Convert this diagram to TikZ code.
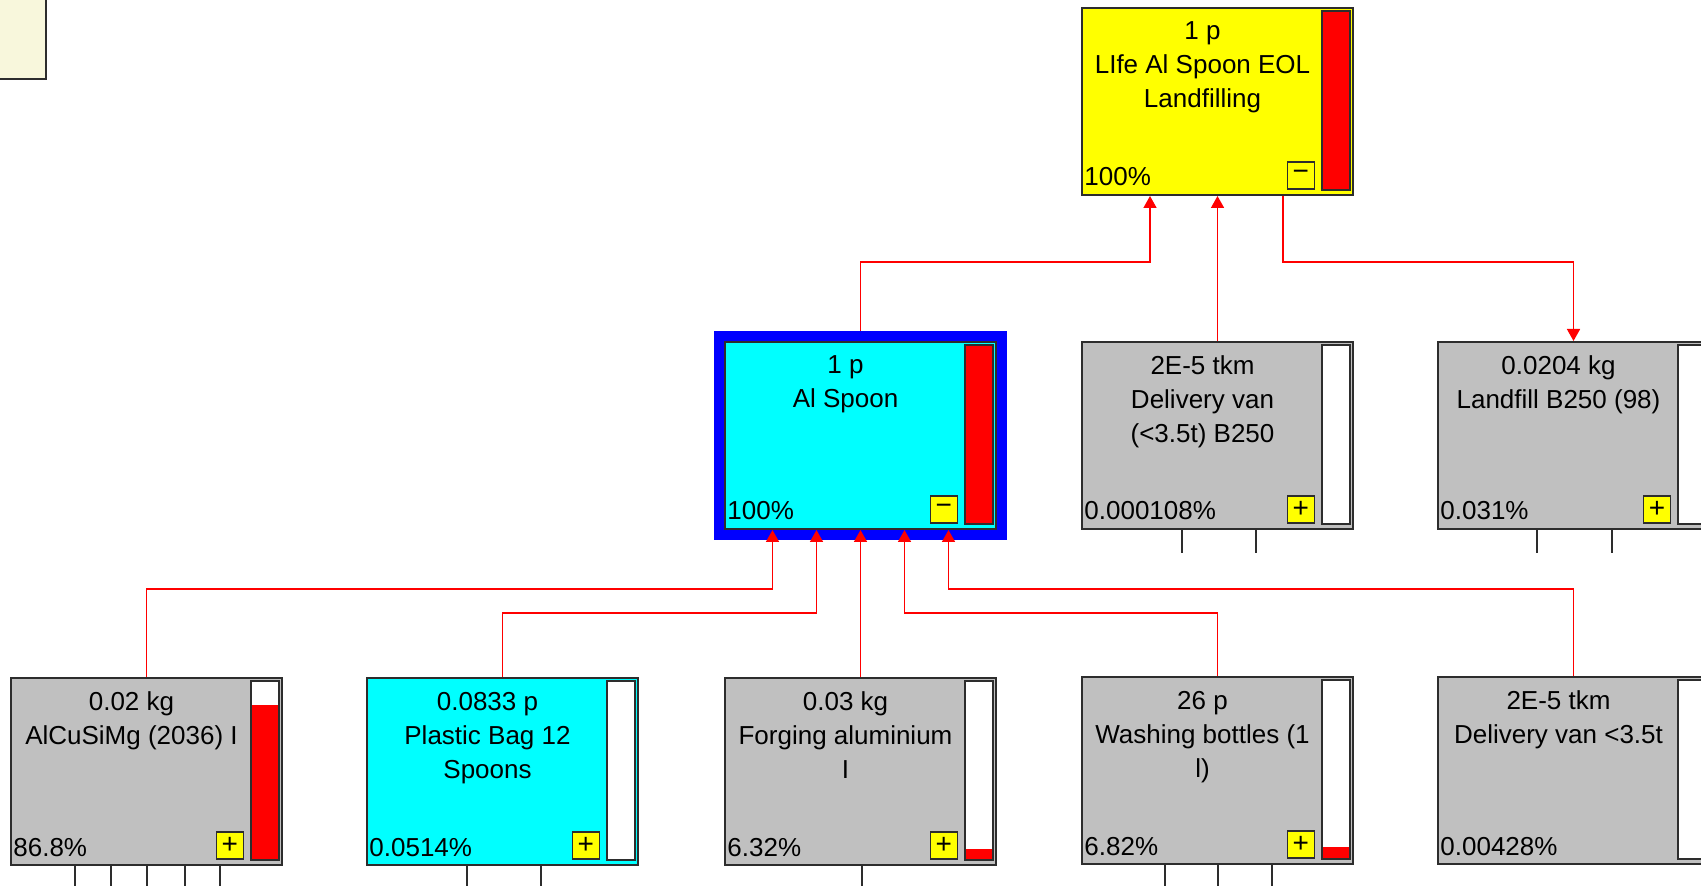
\documentclass[tikz,border=0pt]{standalone}
\usepackage{fontspec}
\setmainfont{Liberation Sans}
\usepackage{tikz}
\usetikzlibrary{arrows.meta,positioning,fit,backgrounds}
\definecolor{yellow1}{RGB}{255,255,0}
\definecolor{cyan1}{RGB}{0,255,255}
\definecolor{gray1}{RGB}{192,192,192}
\definecolor{red1}{RGB}{255,0,0}
\definecolor{blue1}{RGB}{0,0,255}
\definecolor{beige1}{RGB}{248,247,220}
\definecolor{edge1}{RGB}{45,45,45}

\tikzset{
  procbox/.style={draw=edge1, line width=1pt, minimum width=135.5pt, minimum height=93.5pt, inner sep=0pt},
  proctitle/.style={align=center, inner sep=0pt, font=\fontsize{13}{17}\selectfont},
  procpct/.style={inner sep=0pt, font=\fontsize{13}{17}\selectfont},
  procbar/.style={fill=white, minimum width=13.5pt, minimum height=89pt, inner sep=0pt},
  signbox/.style={draw=edge1, fill=yellow1, line width=0.8pt, minimum size=13.5pt, inner sep=0pt, font=\fontsize{14}{14}\selectfont},
  link/.style={red1, line width=0.8pt, -{Triangle[width=6.5pt,length=6pt]}},
  stub/.style={edge1, line width=1pt},
}

% one process box: name, placement, fill, title, share, red part of bar
\newcommand{\procnode}[6]{%
  \node[procbox, fill=#3, #2] (#1) {};
  \node[proctitle, anchor=north] (#1-t) at ([xshift=-7.5pt,yshift=-7.3pt]#1.north) {#4};
  \node[procpct, anchor=base west] (#1-p) at ([xshift=1.5pt,yshift=5pt]#1.south west) {#5};
  \node[procbar, anchor=north east] (#1-b) at ([xshift=-2pt,yshift=-2pt]#1.north east) {};
  \fill[red1] (#1-b.south west) rectangle ([yshift=#6*89pt]#1-b.south east);
  \draw[edge1, line width=0.8pt] (#1-b.south west) rectangle (#1-b.north east);
}

\begin{document}
\begin{tikzpicture}[x=0.5pt, y=-0.5pt]
    \useasboundingbox (0,0) rectangle (1701,886);
    \clip (0,0) rectangle (1701,886);
    % Note corner
    \draw[fill=beige1, draw=edge1, line width=1pt] (-10,-10) rectangle (46,79);
    % Top process
    \procnode{life}{at={(1217.5,101.5)}}{yellow1}{1 p\\LIfe Al Spoon EOL\\Landfilling}{100\%}{1}
    % Second level
    \procnode{van}{below=72.5pt of life}{gray1}{2E-5 tkm\\Delivery van\\(<3.5t) B250}{0.000108\%}{0}
    \procnode{spoon}{left=42pt of van}{cyan1}{1 p\\Al Spoon}{100\%}{1}
    \procnode{landfill}{right=41.5pt of van}{gray1}{0.0204 kg\\Landfill B250 (98)}{0.031\%}{0}
    % Third level
    \procnode{forging}{below=73.5pt of spoon}{gray1}{0.03 kg\\Forging aluminium\\I}{6.32\%}{0.0632}
    \procnode{plastic}{left=42.5pt of forging}{cyan1}{0.0833 p\\Plastic Bag 12\\Spoons}{0.0514\%}{0}
    \procnode{alcu}{left=41.5pt of plastic}{gray1}{0.02 kg\\AlCuSiMg (2036) I}{86.8\%}{0.868}
    \procnode{washing}{below=73pt of van}{gray1}{26 p\\Washing bottles (1\\l)}{6.82\%}{0.0682}
    \procnode{van2}{right=41.5pt of washing}{gray1}{2E-5 tkm\\Delivery van <3.5t}{0.00428\%}{0}
    % Selected process
    \begin{scope}[on background layer]
        \node[fill=blue1, fit=(spoon), inner sep=5pt] (spoonsel) {};
    \end{scope}
    % Expand / collapse buttons
    \foreach \n/\s in {life/−, spoon/−, van/+, landfill/+, alcu/+, plastic/+, forging/+, washing/+}
        \node[signbox, anchor=south east] (\n-s) at ([xshift=-3.5pt]\n-b.south west) {\s};
    % Ports and bus lines
    \coordinate (topbus) at (0,262);
    \coordinate (busA) at (0,589);
    \coordinate (busB) at (0,613);
    \coordinate (out1) at ([xshift=-33.75pt]life.south);
    \coordinate (out3) at ([xshift=32.75pt]life.south);
    \foreach \k/\dx in {1/-44,2/-22,3/0,4/22,5/44}
        \coordinate (in\k) at ([xshift=\dx pt]spoon.south);
    % Flows
    \draw[link] (spoonsel.north) -- (spoonsel.north |- topbus) -| (out1);
    \draw[link] (van.north) -- (life.south);
    \draw[link] (out3) -- (out3 |- topbus) -| (landfill.north);
    \draw[link] (alcu.north) -- (alcu.north |- busA) -| (in1);
    \draw[link] (plastic.north) -- (plastic.north |- busB) -| (in2);
    \draw[link] (forging.north) -- (in3);
    \draw[link] (washing.north) -- (washing.north |- busB) -| (in4);
    \draw[link] (van2.north) -- (van2.north |- busA) -| (in5);
    % Inputs not expanded
    \foreach \n/\offs in {van/{-17.75,19.25}, landfill/{-18.25,19.25}, alcu/{-36,-18,0,19,36.5}, plastic/{-18,19}, forging/{0.75}, washing/{-26.25,0,27.25}}
        \foreach \dx in \offs
            \draw[stub] ([xshift=\dx pt]\n.south) -- ++(0,-11.5pt);
\end{tikzpicture}
\end{document}
